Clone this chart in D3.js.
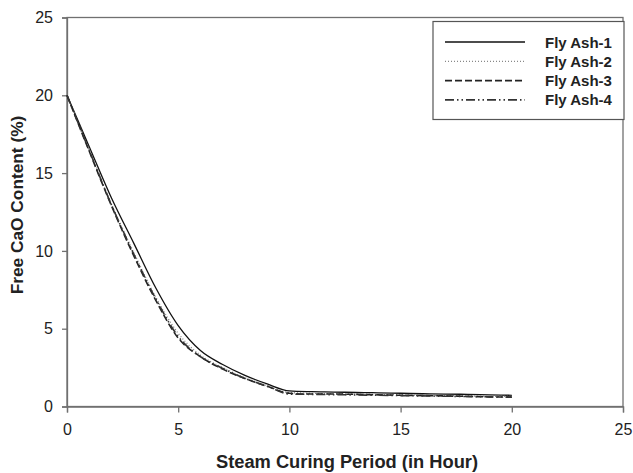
<!DOCTYPE html>
<html><head><meta charset="utf-8">
<script src="https://cdn.jsdelivr.net/npm/d3@7"></script>
<style>body{margin:0;background:#fff}svg{display:block}</style>
</head><body>
<script>
const hours = [0,1,2,3,4,5,6,7,8,9,10,11,12,13,14,15,16,17,18,19,20];
const flyAsh1 = [20,16.7,13.4,10.5,7.6,5.2,3.6,2.7,2.0,1.45,1.0,0.95,0.93,0.9,0.88,0.85,0.82,0.8,0.78,0.75,0.72];
const flyAsh2 = [20,16.5,13.0,9.9,7.0,4.7,3.3,2.5,1.85,1.35,0.9,0.85,0.82,0.8,0.78,0.75,0.72,0.7,0.68,0.66,0.65];
const flyAsh3 = [20,16.4,12.9,9.7,6.8,4.4,3.2,2.4,1.8,1.3,0.85,0.8,0.8,0.78,0.75,0.72,0.7,0.68,0.65,0.62,0.6];
const flyAsh4 = [20,16.45,12.95,9.8,6.9,4.5,3.2,2.45,1.8,1.3,0.8,0.78,0.76,0.74,0.72,0.7,0.68,0.66,0.64,0.62,0.6];
const seriesNames = ["Fly Ash-1","Fly Ash-2","Fly Ash-3","Fly Ash-4"];
const xTicks = [0,5,10,15,20,25];
const yTicks = [0,5,10,15,20,25];

const W=633,H=473;
const svg=d3.select("body").append("svg").attr("width",W).attr("height",H);
const x=d3.scaleLinear().domain([0,25]).range([67,623]);
const y=d3.scaleLinear().domain([0,25]).range([406.5,17.5]);
const axisCol="#707070";

// frame
svg.append("rect").attr("x",67).attr("y",17.5).attr("width",556).attr("height",389)
  .attr("fill","none").attr("stroke",axisCol).attr("stroke-width",1.3);

const font="Arial, 'Liberation Sans', sans-serif";
const gx=svg.append("g").attr("transform","translate(0,406.5)")
  .call(d3.axisBottom(x).tickValues(xTicks).tickSize(6).tickPadding(11).tickFormat(d3.format("d")));
const gy=svg.append("g").attr("transform","translate(67,0)")
  .call(d3.axisLeft(y).tickValues(yTicks).tickSize(5).tickPadding(9).tickFormat(d3.format("d")));
[gx,gy].forEach(g=>{
  g.select(".domain").attr("stroke",axisCol).attr("stroke-width",1.3);
  g.selectAll(".tick line").attr("stroke",axisCol).attr("stroke-width",1.3);
  g.selectAll(".tick text").attr("font-family",font).attr("font-size",16).attr("fill","#222");
});

// titles
svg.append("text").attr("x",347).attr("y",468).attr("text-anchor","middle")
  .attr("font-family",font).attr("font-weight","bold").attr("font-size",18.3).attr("fill","#222")
  .text("Steam Curing Period (in Hour)");
svg.append("text").attr("transform","translate(23,205) rotate(-90)").attr("text-anchor","middle")
  .attr("font-family",font).attr("font-weight","bold").attr("font-size",17.3).attr("fill","#222")
  .text("Free CaO Content (%)");

const data=[flyAsh1,flyAsh2,flyAsh3,flyAsh4];
const styles=[
  {dash:null,col:"#111",w:1.3},
  {dash:"1,2",col:"#888",w:1.3},
  {dash:"7,3",col:"#222",w:1.6},
  {dash:"9,3,1.5,3,1.5,3",col:"#333",w:1.6}
];
const line=d3.line().x((d,i)=>x(hours[i])).y(d=>y(d)).curve(d3.curveMonotoneX);
data.forEach((s,k)=>{
  svg.append("path").datum(s).attr("d",line).attr("fill","none")
    .attr("stroke",styles[k].col).attr("stroke-width",styles[k].w)
    .attr("stroke-dasharray",styles[k].dash);
});

// legend
const lg=svg.append("g");
lg.append("rect").attr("x",433).attr("y",21.5).attr("width",191).attr("height",98)
  .attr("fill","#fff").attr("stroke","#555").attr("stroke-width",1.2);
seriesNames.forEach((n,k)=>{
  const yy=42+k*19.3;
  lg.append("line").attr("x1",445).attr("x2",525).attr("y1",yy).attr("y2",yy)
    .attr("stroke",styles[k].col).attr("stroke-width",styles[k].w).attr("stroke-dasharray",styles[k].dash);
  lg.append("text").attr("x",545).attr("y",yy+5.5).attr("font-family",font).attr("font-weight","bold")
    .attr("font-size",15).attr("fill","#222").text(n);
});
</script>
</body></html>
